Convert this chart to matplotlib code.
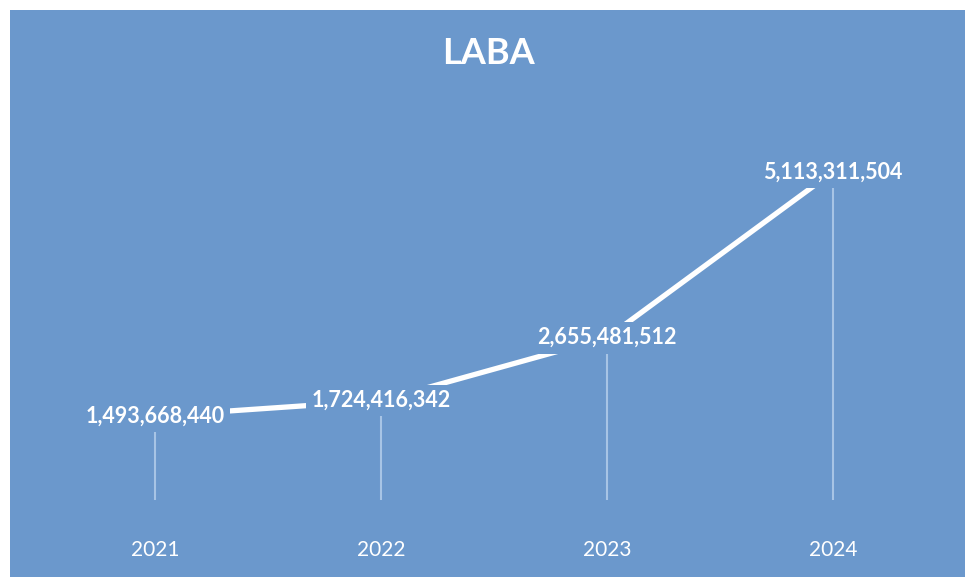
import matplotlib.pyplot as plt
from matplotlib.patches import Rectangle

years = ['2021', '2022', '2023', '2024']
laba = [1493668440, 1724416342, 2655481512, 5113311504]

bg = '#6b98cc'

fig = plt.figure(figsize=(9.65, 5.8), dpi=100)
fig.patches.append(Rectangle((10/965, 3/580), 955/965, 567/580, transform=fig.transFigure,
                             facecolor=bg, edgecolor='none', zorder=-10))

ax = fig.add_axes([42/965, 80/580, 904/965, 388/580])
ax.set_facecolor('none')
x = range(len(years))

# drop lines
ax.vlines(x, 0.25e9, laba, color='#bcd3ee', lw=1.5, alpha=0.75, zorder=1)
ax.plot(x, laba, color='white', lw=3.8, solid_capstyle='round', zorder=2)

for xi, v in zip(x, laba):
    ax.text(xi, v, f'{v:,}', ha='center', va='center', color='white', fontsize=15.5,
            fontweight='bold', family='Lato', zorder=3,
            bbox=dict(boxstyle='square,pad=0.25', fc=bg, ec='none'))

ax.set_xlim(-0.5, 3.5)
ax.set_ylim(0.25e9, 6e9)
ax.set_xticks(list(x))
ax.set_xticklabels(years, family='Lato', fontsize=15, color='white')
ax.tick_params(axis='x', length=0, pad=29)
ax.set_yticks([])
for s in ax.spines.values():
    s.set_visible(False)

fig.text(0.506, 1 - 53/580, 'LABA', ha='center', va='center', color='white',
         fontsize=26, fontweight='bold', family='Lato')

fig.savefig('out.png', dpi=100, facecolor='white')
